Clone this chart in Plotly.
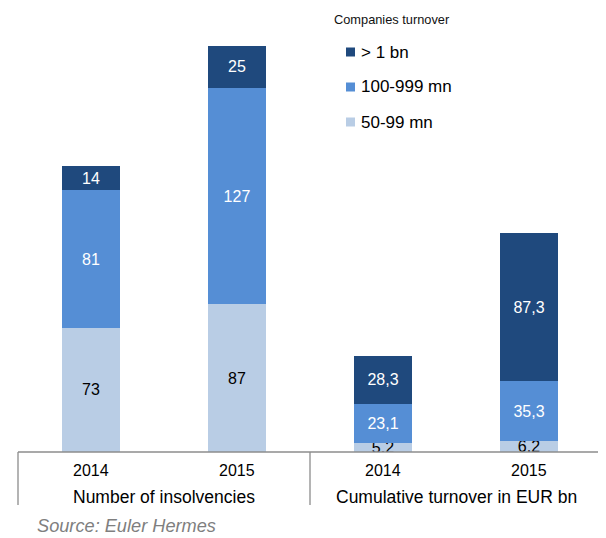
import plotly.graph_objects as go

# ---- data ----
categories = ["2014", "2015", "2014", "2015"]
groups = ["Number of insolvencies", "Cumulative turnover in EUR bn"]
group_members = [[0, 1], [2, 3]]
series_names = ["50-99 mn", "100-999 mn", "> 1 bn"]
small = [73, 87, 5.2, 6.2]
mid = [81, 127, 23.1, 35.3]
large = [14, 25, 28.3, 87.3]
series_values = [small, mid, large]
colors = ["#B9CDE5", "#558ED5", "#1F497D"]
text_colors = ["#000000", "#FFFFFF", "#FFFFFF"]

legend_title = "Companies turnover"
source_text = "Source: Euler Hermes"

# ---- layout geometry (pixels of the reference; page body adds an 8px offset) ----
OFF = 8
W, H = 606 - OFF, 538 - OFF
PLOT_X0, PLOT_X1, PLOT_Y0, PLOT_Y1 = 18, 602, 44, 452  # reference pixel positions
L = PLOT_X0 - OFF
R = W - (PLOT_X1 - OFF)
T = PLOT_Y0 - OFF
B = H - (PLOT_Y1 - OFF)
plot_w = PLOT_X1 - PLOT_X0
plot_h = PLOT_Y1 - PLOT_Y0


def px2x(px):
    return (px - PLOT_X0) / plot_w


def px2y(py):
    return (PLOT_Y1 - py) / plot_h


def fmt(v):
    s = f"{v:g}"
    return s.replace(".", ",")


xs = list(range(len(categories)))
font_main = "Liberation Sans, Arial, sans-serif"

fig = go.Figure()
for name, vals, col, tcol in zip(series_names, series_values, colors, text_colors):
    fig.add_trace(go.Bar(
        x=xs, y=vals, name=name,
        marker=dict(color=col, line=dict(width=0)),
        width=0.4,
        text=[fmt(v) for v in vals],
        textposition="inside",
        insidetextanchor="middle",
        constraintext="none",
        textangle=0,
        textfont=dict(family=font_main, size=16, color=tcol),
        showlegend=False,
        hoverinfo="skip",
    ))

line_col = "#8C8C8C"
shapes = [
    dict(type="line", xref="paper", yref="paper", x0=px2x(18), x1=px2x(602),
         y0=px2y(452), y1=px2y(452), line=dict(color=line_col, width=1.3)),
]
for vx in (18, 310, 602):
    shapes.append(dict(type="line", xref="paper", yref="paper", x0=px2x(vx), x1=px2x(vx),
                       y0=px2y(452), y1=px2y(505), line=dict(color=line_col, width=1.3)))

annotations = []
for i, c in enumerate(categories):
    annotations.append(dict(x=i, xref="x", y=px2y(470), yref="paper", text=c,
                            showarrow=False, xanchor="center", yanchor="middle",
                            font=dict(family=font_main, size=16, color="#000000")))
for g, members in zip(groups, group_members):
    cx = sum(members) / len(members)
    annotations.append(dict(x=cx, xref="x", y=px2y(497), yref="paper", text=g,
                            showarrow=False, xanchor="center", yanchor="middle",
                            font=dict(family=font_main, size=17.5, color="#000000")))
annotations.append(dict(x=px2x(35), xref="paper", y=px2y(526), yref="paper",
                        text="<i>" + source_text + "</i>", showarrow=False,
                        xanchor="left", yanchor="middle",
                        font=dict(family=font_main, size=18.2, color="#7F7F7F")))

# legend (drawn manually)
annotations.append(dict(x=px2x(332), xref="paper", y=px2y(19), yref="paper",
                        text=legend_title, showarrow=False, xanchor="left", yanchor="middle",
                        font=dict(family=font_main, size=12.8, color="#111111")))
legend_y = [52, 87, 122]
for k, (name, col) in enumerate(zip(series_names[::-1], colors[::-1])):
    yc = legend_y[k]
    shapes.append(dict(type="rect", xref="paper", yref="paper",
                       x0=px2x(346), x1=px2x(355), y0=px2y(yc + 4.5), y1=px2y(yc - 4.5),
                       fillcolor=col, line=dict(width=0)))
    annotations.append(dict(x=px2x(359), xref="paper", y=px2y(yc), yref="paper",
                            text=name, showarrow=False, xanchor="left", yanchor="middle",
                            font=dict(family=font_main, size=17, color="#000000")))

fig.update_layout(
    width=W, height=H,
    margin=dict(l=L, r=R, t=T, b=B, pad=0),
    barmode="stack",
    plot_bgcolor="white", paper_bgcolor="white",
    xaxis=dict(range=[-0.5, 3.5], visible=False, fixedrange=True),
    yaxis=dict(range=[0, 240], visible=False, fixedrange=True),
    shapes=shapes,
    annotations=annotations,
    showlegend=False,
)

fig.write_html("out.html")
